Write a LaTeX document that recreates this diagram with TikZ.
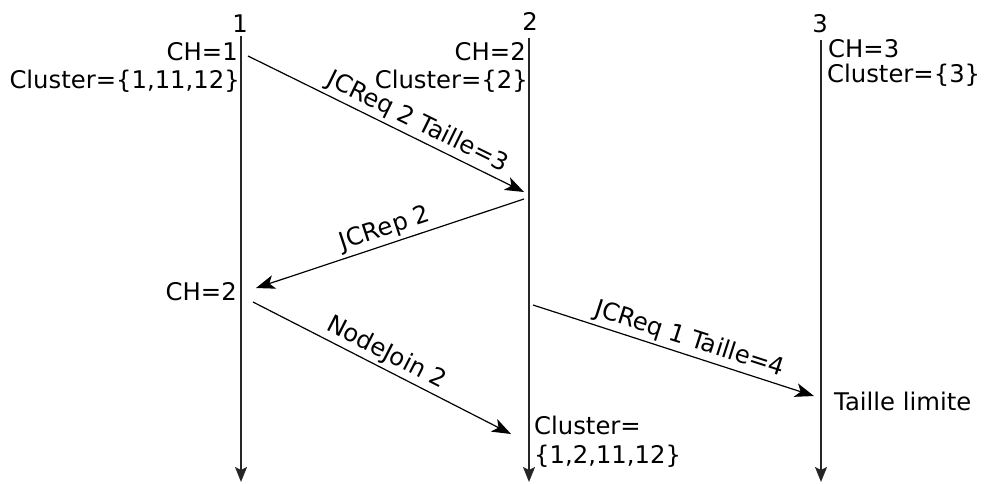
\documentclass[tikz,border=0pt]{standalone}
\usepackage{fontspec}
\setmainfont{DejaVu Sans}
\usetikzlibrary{arrows.meta}
\begin{document}
\begin{tikzpicture}[x=1pt,y=-1pt,
  lifeline/.style={line width=1.5pt, draw=black!85, -{Stealth[length=15pt,width=12pt,inset=3pt]}},
  msg/.style={line width=1.2pt, -{Stealth[length=19pt,width=14pt,inset=5pt]}},
  txt/.style={inner sep=0pt, font=\fontsize{24.3}{28}\selectfont},
  lbl/.style={txt, sloped, above=3pt}]
\useasboundingbox (0,0) rectangle (985,483);
% lifeline ends
\coordinate (t1) at (241,36);  \coordinate (b1) at (241,482);
\coordinate (t2) at (529,38);  \coordinate (b2) at (529,482);
\coordinate (t3) at (821,40);  \coordinate (b3) at (821,482);
\draw[lifeline] (t1) -- (b1);
\draw[lifeline] (t2) -- (b2);
\draw[lifeline] (t3) -- (b3);
% headers
\node[txt, anchor=base] (h1) at (240,32) {1};
\node[txt, anchor=base] (h2) at (530,30) {2};
\node[txt, anchor=base] (h3) at (820,32) {3};
% initial states
\node[txt, anchor=base east] (ch1) at (238,60) {CH=1};
\node[txt, anchor=base east] (cl1) at (240,88) {Cluster=\{1,11,12\}};
\node[txt, anchor=base east] (ch2) at (526,60) {CH=2};
\node[txt, anchor=base east] (cl2) at (528,88) {Cluster=\{2\}};
\node[txt, anchor=base west] (ch3) at (828,57) {CH=3};
\node[txt, anchor=base west] (cl3) at (827,82) {Cluster=\{3\}};
% later states
\node[txt, anchor=base east] (ch1b) at (237,300) {CH=2};
\node[txt, anchor=base west] (cl2a) at (534,434) {Cluster=};
\node[txt, anchor=base west] (cl2b) at (534,463) {\{1,2,11,12\}};
\node[txt, anchor=base west] (lim) at (834,410) {Taille limite};
% message end points
\coordinate (m1s) at (248,56);  \coordinate (m1e) at (524,192);
\coordinate (m2s) at (524,199); \coordinate (m2e) at (256,288);
\coordinate (m3s) at (253,302); \coordinate (m3e) at (511,434);
\coordinate (m4s) at (533,305); \coordinate (m4e) at (814,396);
\draw[msg] (m1s) -- node[lbl, pos=0.59] {JCReq 2 Taille=3} (m1e);
\draw[msg] (m2s) -- node[lbl, pos=0.5] {JCRep 2} (m2e);
\draw[msg] (m3s) -- node[lbl, pos=0.49] {NodeJoin 2} (m3e);
\draw[msg] (m4s) -- node[lbl, pos=0.54] {JCReq 1 Taille=4} (m4e);
\end{tikzpicture}
\end{document}
